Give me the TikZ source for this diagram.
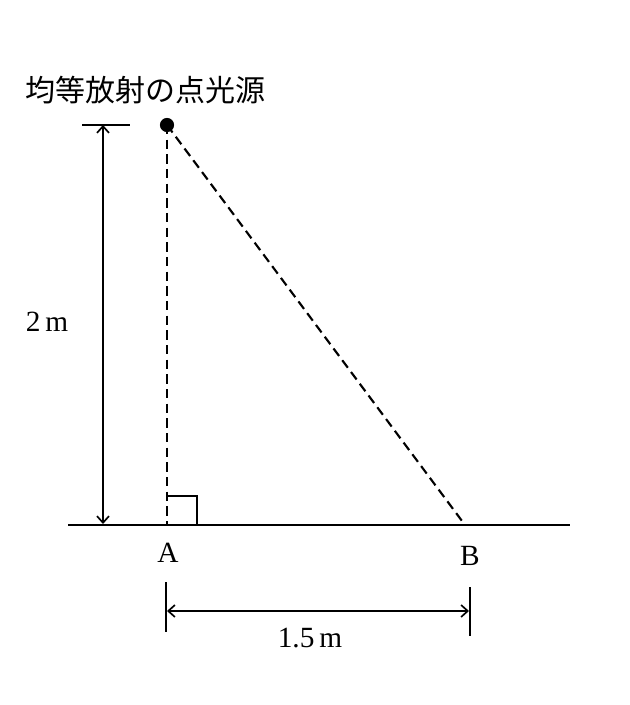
\documentclass[tikz,border=0pt]{standalone}
\usepackage{fontspec}
\setmainfont{Liberation Serif}
\newfontfamily\cjk{Noto Sans CJK JP}
\usetikzlibrary{arrows.meta}
\begin{document}
\begin{tikzpicture}[x=0.75pt,y=-0.75pt,
  lbl/.style={inner sep=0pt,font=\fontsize{22}{26}\selectfont},
  thinline/.style={line width=1.25pt},
  dimarrow/.style={line width=1.25pt,{Straight Barb[length=5pt,width=9pt]}-{Straight Barb[length=5pt,width=9pt]}},
  dashline/.style={line width=1.6pt,dash pattern=on 7pt off 4pt}]
\useasboundingbox (0,0) rectangle (630,705);
% key points
\coordinate (S) at (167,125);
\coordinate (A) at (167,525);
\coordinate (B) at (465,525);
\coordinate (G1) at (68,525);
\coordinate (G2) at (570,525);
% ground
\draw[line width=1.9pt] (G1) -- (G2);
% dashed rays
\draw[dashline] (S) -- (A);
\draw[dashline] (S) -- (B);
% right angle mark
\coordinate (R1) at (167,496);
\coordinate (R2) at (197,496);
\coordinate (R3) at (197,525);
\draw[thinline] (R1) -- (R2) -- (R3);
% source
\fill (S) circle[radius=5.3pt];
% title
\node[lbl,font=\cjk\fontsize{22.5}{26}\selectfont] (title) at (145,90) {均等放射の点光源};
% vertical dimension
\coordinate (T1) at (82,125);
\coordinate (T2) at (130,125);
\draw[thinline] (T1) -- (T2);
\coordinate (V1) at (103,125);
\coordinate (V2) at (103,524);
\draw[dimarrow] (V1) -- (V2);
\node[lbl] (h) at (47,322) {2\,m};
% labels
\node[lbl] (la) at (168,553) {A};
\node[lbl] (lb) at (470,556) {B};
% horizontal dimension
\coordinate (L1) at (166,582);
\coordinate (L2) at (166,632);
\coordinate (Q1) at (470,587);
\coordinate (Q2) at (470,636);
\draw[thinline] (L1) -- (L2);
\draw[thinline] (Q1) -- (Q2);
\coordinate (H1) at (167,611);
\coordinate (H2) at (469,611);
\draw[dimarrow] (H1) -- (H2);
\node[lbl] (w) at (310,638) {1.5\,m};
\end{tikzpicture}
\end{document}
